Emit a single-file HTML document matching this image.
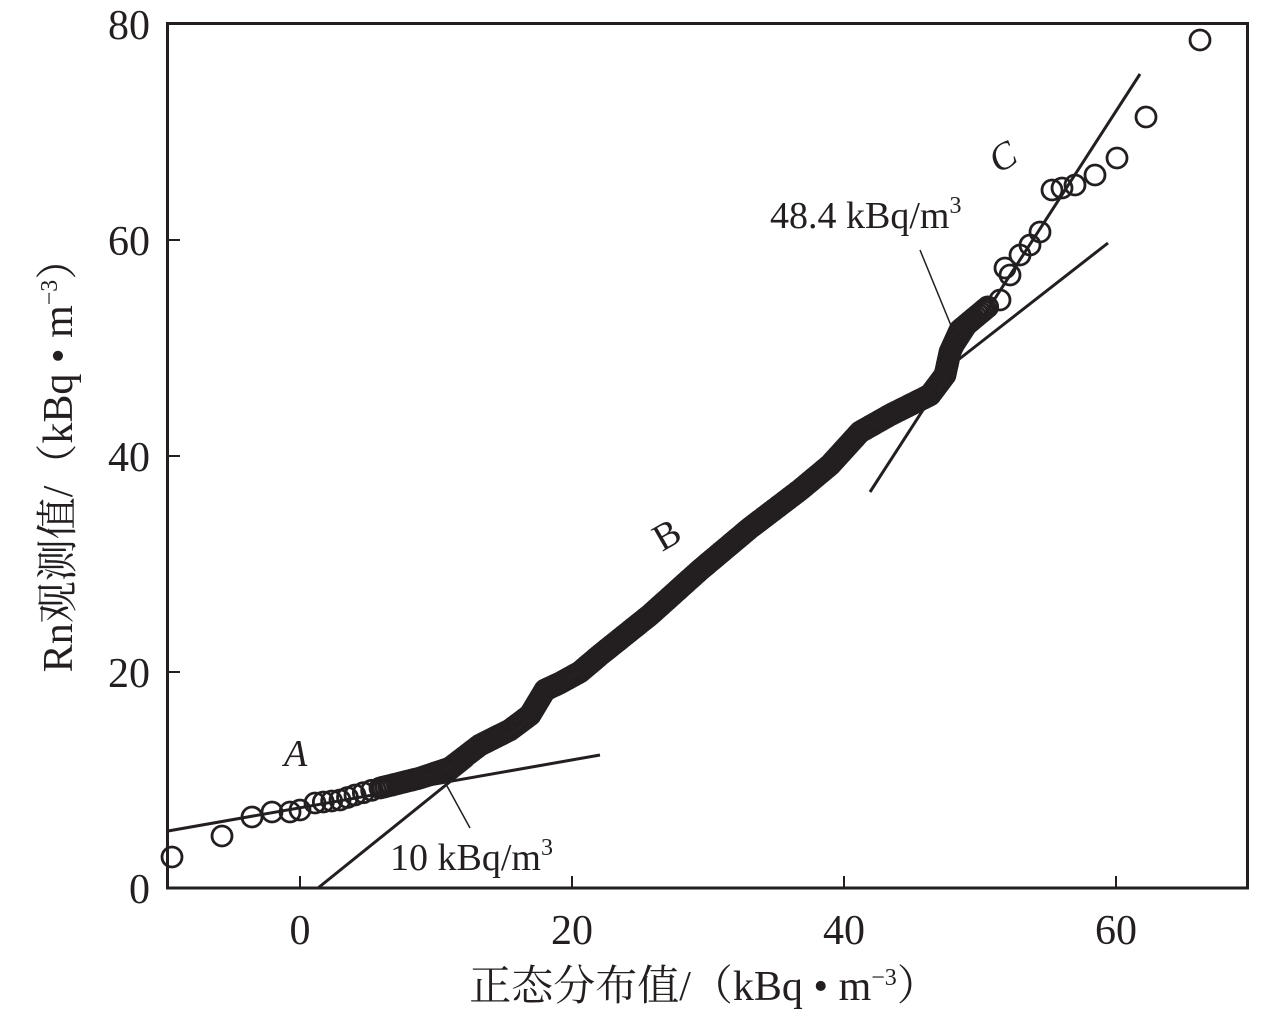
<!DOCTYPE html>
<html><head><meta charset="utf-8"><style>
html,body{margin:0;padding:0;background:#fff;}
svg text{font-family:"Liberation Serif","Noto Serif CJK SC",serif;fill:#231f20;}
</style></head><body>
<svg id="s" width="1280" height="1017" viewBox="0 0 1280 1017" xmlns="http://www.w3.org/2000/svg">
<g id="pts" fill="none" stroke="#231f20" stroke-width="2.8"></g>
<g stroke="#231f20" stroke-width="3" fill="none">
<line x1="168" y1="831" x2="600" y2="755"/>
<line x1="318" y1="888" x2="472" y2="764"/>
<line x1="958" y1="360" x2="1108" y2="243"/>
<line x1="870" y1="492" x2="1140" y2="74"/>
<line x1="920" y1="250" x2="952" y2="328" stroke-width="1.5"/>
<line x1="447" y1="786" x2="470" y2="828" stroke-width="1.5"/>
</g>
<rect x="167.5" y="23.5" width="1080" height="864.5" fill="none" stroke="#231f20" stroke-width="3"/>
<g stroke="#231f20" stroke-width="2">
<line x1="300" y1="888" x2="300" y2="876"/><line x1="572" y1="888" x2="572" y2="876"/>
<line x1="844" y1="888" x2="844" y2="876"/><line x1="1116" y1="888" x2="1116" y2="876"/>
<line x1="168" y1="672" x2="180" y2="672"/><line x1="168" y1="456" x2="180" y2="456"/>
<line x1="168" y1="240" x2="180" y2="240"/>
</g>
<g font-size="42" text-anchor="end">
<text x="150" y="903">0</text><text x="150" y="687">20</text><text x="150" y="471">40</text>
<text x="150" y="255">60</text><text x="150" y="39">80</text>
</g>
<g font-size="42" text-anchor="middle">
<text x="300" y="944">0</text><text x="572" y="944">20</text><text x="844" y="944">40</text><text x="1116" y="944">60</text>
</g>
<text x="704" y="1000" font-size="42" text-anchor="middle">正态分布值/（kBq • m<tspan font-size="24" dy="-15">−3</tspan><tspan dy="15">）</tspan></text>
<text transform="translate(72,455) rotate(-90)" font-size="42" text-anchor="middle">Rn观测值/（kBq • m<tspan font-size="24" dy="-15">−3</tspan><tspan dy="15">）</tspan></text>
<text x="284" y="766" font-size="38" font-style="italic">A</text>
<text transform="translate(662,552) rotate(-30)" font-size="38">B</text>
<text transform="translate(998,174) rotate(-30)" font-size="38" font-style="italic">C</text>
<text x="770" y="228" font-size="38">48.4 kBq/m<tspan font-size="24" dy="-15">3</tspan></text>
<text x="390" y="870" font-size="38">10 kBq/m<tspan font-size="24" dy="-15">3</tspan></text>
</svg>
<script>
var g=document.getElementById('pts'),ns="http://www.w3.org/2000/svg";
function c(x,y){var e=document.createElementNS(ns,'circle');e.setAttribute('cx',x);e.setAttribute('cy',y);e.setAttribute('r',10);g.appendChild(e);}
[[172,857],[222,836],[252,817],[272,812],[290,812],[300,810],[1000,300],[1005,268],[1010,275],[1020,255],[1030,245],[1040,232],[1052,190],[1062,188],[1075,185],[1095,175],[1117,158],[1146,117],[1200,40]].forEach(p=>c(p[0],p[1]));
var P=[[315,803],[340,800],[355,795],[380,788],[420,778],[450,768],[480,745],[510,730],[530,715],[545,690],[560,683],[580,672],[600,655],[650,615],[700,570],[750,528],[800,490],[830,465],[860,432],[890,415],[930,395],[945,375],[950,352],[960,330],[990,305]];
for(var i=0;i<P.length-1;i++){var a=P[i],b=P[i+1],d=Math.hypot(b[0]-a[0],b[1]-a[1]),n=Math.max(1,Math.round(d/(i<3?8:3)));for(var k=0;k<n;k++){var t=k/n;c(a[0]+(b[0]-a[0])*t,a[1]+(b[1]-a[1])*t);}}
</script>
</body></html>
